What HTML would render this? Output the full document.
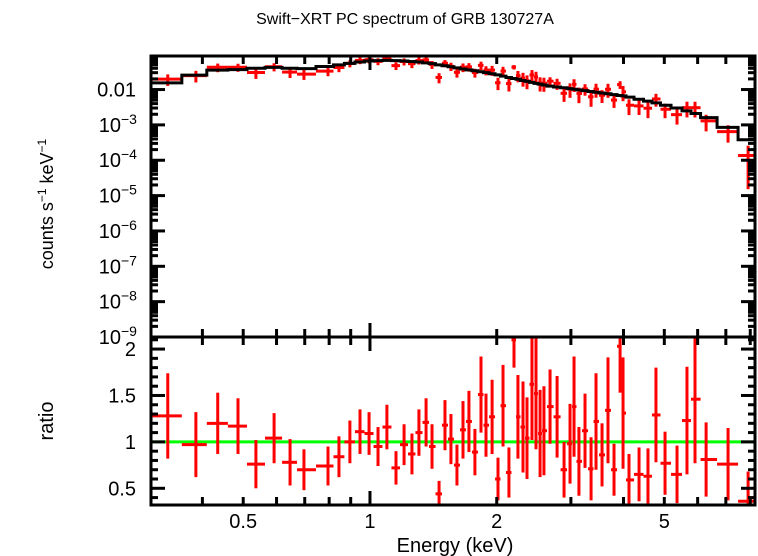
<!DOCTYPE html>
<html><head><meta charset="utf-8"><style>
html,body{margin:0;padding:0;background:#fff;}
svg{display:block;font-family:"Liberation Sans",sans-serif;}
</style></head><body>
<svg id="chart" width="758" height="556" viewBox="0 0 758 556" xmlns="http://www.w3.org/2000/svg">
<text x="405" y="24" font-size="16" text-anchor="middle">Swift−XRT PC spectrum of GRB 130727A</text>
<text transform="translate(53,204) rotate(-90)" font-size="18" text-anchor="middle">counts s<tspan font-size="12" dy="-7">−1</tspan><tspan dy="7"> keV</tspan><tspan font-size="12" dy="-7">−1</tspan></text>
<text transform="translate(53,421) rotate(-90)" font-size="20" text-anchor="middle">ratio</text>
<text x="455" y="552" font-size="20" text-anchor="middle">Energy (keV)</text>
<g id="g"></g>
</svg>
<script>
const energies=[0.331,0.386,0.435,0.486,0.536,0.592,0.646,0.697,0.795,0.844,0.896,0.947,0.995,1.045,1.097,1.153,1.205,1.258,1.307,1.359,1.404,1.459,1.507,1.557,1.609,1.663,1.718,1.775,1.835,1.886,1.950,2.014,2.070,2.138,2.198,2.246,2.309,2.360,2.425,2.479,2.535,2.589,2.677,2.782,2.890,2.986,3.052,3.135,3.241,3.350,3.442,3.557,3.675,3.798,3.926,3.990,4.122,4.355,4.573,4.777,5.020,5.360,5.660,5.914,6.284,7.085,7.906];
const modelCounts=[0.0154,0.0256,0.0355,0.0365,0.040,0.0424,0.040,0.039,0.045,0.050,0.055,0.060,0.064,0.066,0.067,0.066,0.064,0.062,0.060,0.057,0.054,0.050,0.047,0.044,0.041,0.038,0.036,0.034,0.032,0.030,0.028,0.026,0.024,0.022,0.0205,0.0195,0.018,0.017,0.016,0.015,0.0142,0.0135,0.0125,0.0118,0.0112,0.0106,0.0102,0.0098,0.0093,0.0088,0.0084,0.0080,0.0076,0.0072,0.0068,0.0066,0.0061,0.0053,0.0047,0.0042,0.0036,0.0030,0.0025,0.0021,0.0016,0.00085,0.00038];
const ratios=[1.28,0.97,1.20,1.17,0.76,1.04,0.78,0.70,0.74,0.84,1.00,1.11,1.09,0.95,1.16,0.72,0.97,0.87,1.10,1.21,0.95,0.44,1.18,1.03,0.75,1.13,1.22,0.89,1.51,1.18,1.27,0.60,1.39,0.67,2.10,1.27,1.16,1.04,1.62,1.52,1.09,1.12,1.38,1.27,0.70,0.98,1.38,0.79,1.12,0.71,1.22,0.86,1.34,0.70,2.03,1.31,0.59,0.65,0.63,1.29,0.77,0.65,1.23,1.46,0.81,0.76,0.36];
const ratioErrors=[0.46,0.35,0.33,0.30,0.26,0.27,0.25,0.22,0.21,0.22,0.23,0.24,0.23,0.21,0.24,0.18,0.22,0.22,0.25,0.26,0.24,0.14,0.27,0.27,0.22,0.31,0.33,0.25,0.41,0.34,0.40,0.23,0.44,0.27,0.30,0.45,0.49,0.44,0.60,0.60,0.47,0.48,0.40,0.44,0.30,0.43,0.54,0.37,0.40,0.34,0.52,0.34,0.57,0.28,0.50,0.60,0.28,0.29,0.30,0.51,0.34,0.31,0.58,0.69,0.40,0.39,0.32];
const xTickLabels=["0.5","1","2","5"];
const xTickValues=[0.5,1,2,5];
const yTopLabels=["0.01","10","10","10","10","10","10","10"];
const yTopExps=["","−3","−4","−5","−6","−7","−8","−9"];
const yTopValues=[-2,-3,-4,-5,-6,-7,-8,-9];
const yBotLabels=["0.5","1","1.5","2"];
const yBotValues=[0.5,1,1.5,2];

const L=151,R=755,T=56,M=337,B=505;
const EMIN=0.302,EMAX=8.21;
const xs=e=>L+(Math.log10(e)-Math.log10(EMIN))/(Math.log10(EMAX)-Math.log10(EMIN))*(R-L);
const LTOP=-1.051,LBOT=-9;
const yU=v=>{const lv=Math.log10(Math.max(v,1e-12));return T+(LTOP-lv)/(LTOP-LBOT)*(M-T);};
const RTOP=2.13,RBOT=0.32;
const yL=r=>M+(RTOP-r)/(RTOP-RBOT)*(B-M);
const NS="http://www.w3.org/2000/svg";
const g=document.getElementById('g');
function mk(tag,attrs){const el=document.createElementNS(NS,tag);for(const k in attrs)el.setAttribute(k,attrs[k]);g.appendChild(el);return el;}
const clampU=y=>Math.min(Math.max(y,T),M);
const clampL=y=>Math.min(Math.max(y,M),B);

const edges=[EMIN];
for(let i=0;i<energies.length-1;i++)edges.push(Math.sqrt(energies[i]*energies[i+1]));
edges.push(EMAX);

let gl=mk('line',{x1:L,x2:R,y1:yL(1),y2:yL(1),stroke:'#00ff00','stroke-width':3});



for(let i=0;i<energies.length;i++){
  const x0=xs(edges[i]),x1=xs(edges[i+1]),xc=xs(energies[i]);
  const d=modelCounts[i]*ratios[i],de=modelCounts[i]*ratioErrors[i];
  const yc=clampU(yU(d)),ya=clampU(yU(d+de)),yb=(d-de)>0?clampU(yU(d-de)):M;
  let h=mk('line',{x1:x0,x2:x1,y1:yc,y2:yc,stroke:'#ff0000','stroke-width':3});
  
  
  let v=mk('line',{x1:xc,x2:xc,y1:ya,y2:yb,stroke:'#ff0000','stroke-width':3});
  
  
  const ry=clampL(yL(ratios[i])),ra=clampL(yL(ratios[i]+ratioErrors[i])),rb=clampL(yL(ratios[i]-ratioErrors[i]));
  let h2=mk('line',{x1:x0,x2:x1,y1:ry,y2:ry,stroke:'#ff0000','stroke-width':3});
  
  
  let v2=mk('line',{x1:xc,x2:xc,y1:ra,y2:rb,stroke:'#ff0000','stroke-width':3});
  
  
}
let pts=[];
for(let i=0;i<energies.length;i++){const y=yU(modelCounts[i]);pts.push(xs(edges[i])+','+y,xs(edges[i+1])+','+y);}
let ml=mk('polyline',{points:pts.join(' '),fill:'none',stroke:'#000','stroke-width':3});



let f1=mk('rect',{x:L,y:T,width:R-L,height:M-T,fill:'none',stroke:'#000','stroke-width':3});


let f2=mk('rect',{x:L,y:M,width:R-L,height:B-M,fill:'none',stroke:'#000','stroke-width':3});



const minorE=[0.4,0.5,0.6,0.7,0.8,0.9,2,3,4,5,6,7,8];
function tk(x1,y1,x2,y2,name){let t=mk('line',{x1,y1,x2,y2,stroke:'#000','stroke-width':3});}
minorE.forEach(e=>{const x=xs(e);[T,M].forEach(y=>tk(x,y,x,y+8,'x-tick'));[M,B].forEach(y=>tk(x,y,x,y-8,'x-tick'));});
[T,M].forEach(y=>tk(xs(1),y,xs(1),y+14,'x-tick-major'));[M,B].forEach(y=>tk(xs(1),y,xs(1),y-14,'x-tick-major'));
for(let i=0;i<xTickValues.length;i++){
  let t=mk('text',{x:xs(xTickValues[i]),y:528,'font-size':20,'text-anchor':'middle'});
  t.textContent=xTickLabels[i];
  
  
}
for(let d=-2;d>=-9;d--){
  const y=yU(Math.pow(10,d));
  tk(L,y,L+14,y,'y-tick-major');tk(R,y,R-14,y,'y-tick-major');
}
for(let d=-2;d>=-10;d--){for(let m=2;m<=9;m++){const v=m*Math.pow(10,d);const y=yU(v);if(y>T&&y<M){tk(L,y,L+7,y,'y-tick-minor');tk(R,y,R-7,y,'y-tick-minor');}}}
for(let i=0;i<yTopValues.length;i++){
  const y=yU(Math.pow(10,yTopValues[i]))+7;
  let t=mk('text',{x:yTopExps[i]?121:136,y:y,'font-size':20,'text-anchor':'end'});
  
  
  t.textContent=yTopLabels[i];
  if(yTopExps[i]){
    let s=mk('text',{x:121,y:y-8,'font-size':14,'text-anchor':'start'});
    s.textContent=yTopExps[i];
    
    
  }
}
for(let k=4;k<=21;k++){const r=k/10;const y=yL(r);if(y<=M||y>=B)continue;const maj=(k%5===0);tk(L,y,L+(maj?14:7),y,'ratio-tick');tk(R,y,R-(maj?14:7),y,'ratio-tick');}
for(let i=0;i<yBotValues.length;i++){
  let t=mk('text',{x:136,y:yL(yBotValues[i])+7,'font-size':20,'text-anchor':'end'});
  t.textContent=yBotLabels[i];
  
  
}
</script>
</body></html>
